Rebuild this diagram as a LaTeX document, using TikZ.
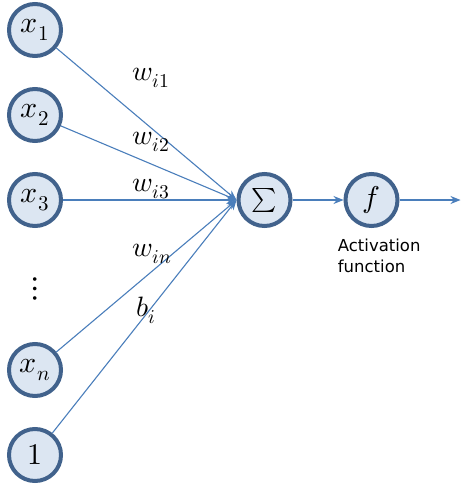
\documentclass[tikz,border=0pt]{standalone}
\usepackage{fontspec}
\usepackage{unicode-math}
\setmathfont{Latin Modern Math}
\newfontfamily\notefont{DejaVu Sans}
\usetikzlibrary{positioning, arrows.meta}
\definecolor{ringblue}{HTML}{41628C}
\definecolor{fillblue}{HTML}{DCE6F2}
\definecolor{lineblue}{HTML}{4A7EBB}
\tikzset{
  neuron/.style={circle, draw=ringblue, fill=fillblue, line width=4pt,
    minimum size=52pt, inner sep=0pt, font=\fontsize{30}{34}\selectfont}, % the round units
  link/.style={draw=lineblue, line width=1.1pt, -{Stealth[length=10pt,width=8pt]}}, % weighted edges
  weight/.style={font=\fontsize{28}{32}\selectfont, inner sep=0pt},
  note/.style={font=\notefont\fontsize{16.5}{21}\selectfont, align=left, inner sep=0pt},
  node distance=85pt, % spacing of the inputs
}

\begin{document}
\begin{tikzpicture}[on grid]
  \useasboundingbox (0,0) rectangle (461pt,-489pt);
  \node[neuron] (x1) at (35pt,-30pt) {$x_1$};
  \node[neuron, below=of x1] (x2) {$x_2$};
  \node[neuron, below=of x2] (x3) {$x_3$};
  \node[below=of x3, yshift=-4pt, font=\fontsize{34}{38}\selectfont, inner sep=0pt] (dots) {$\vdots$};
  \node[neuron, below=81pt of dots] (xn) {$x_n$};
  \node[neuron, below=of xn] (one) {$1$};

  \node[neuron, right=229.5pt of x3, font=\fontsize{24}{28}\selectfont] (sum) {$\sum$};
  \node[neuron, right=107pt of sum, font=\fontsize{30}{34}\selectfont] (f) {$f$};
  \coordinate[right=89pt of f] (out);

  \node[note, anchor=north west] (act) at ([xshift=-14pt, yshift=-19pt]f.south west) {Activation\\function};

  \draw[link] (x1) -- node[weight, pos=0.525, yshift=50pt]{$w_{i1}$} (sum.west);
  \draw[link] (x2) -- node[weight, pos=0.513, yshift=22pt]{$w_{i2}$} (sum.west);
  \draw[link] (x3) -- node[weight, pos=0.507, yshift=11pt]{$w_{i3}$} (sum.west);
  \draw[link] (xn) -- node[weight, pos=0.531, yshift=17pt]{$w_{in}$} (sum.west);
  \draw[link] (one) -- node[weight, pos=0.509, yshift=4pt]{$b_i$} (sum.west);

  \draw[link] (sum) -- (f);
  \draw[link] (f) -- (out);
\end{tikzpicture}
\end{document}
